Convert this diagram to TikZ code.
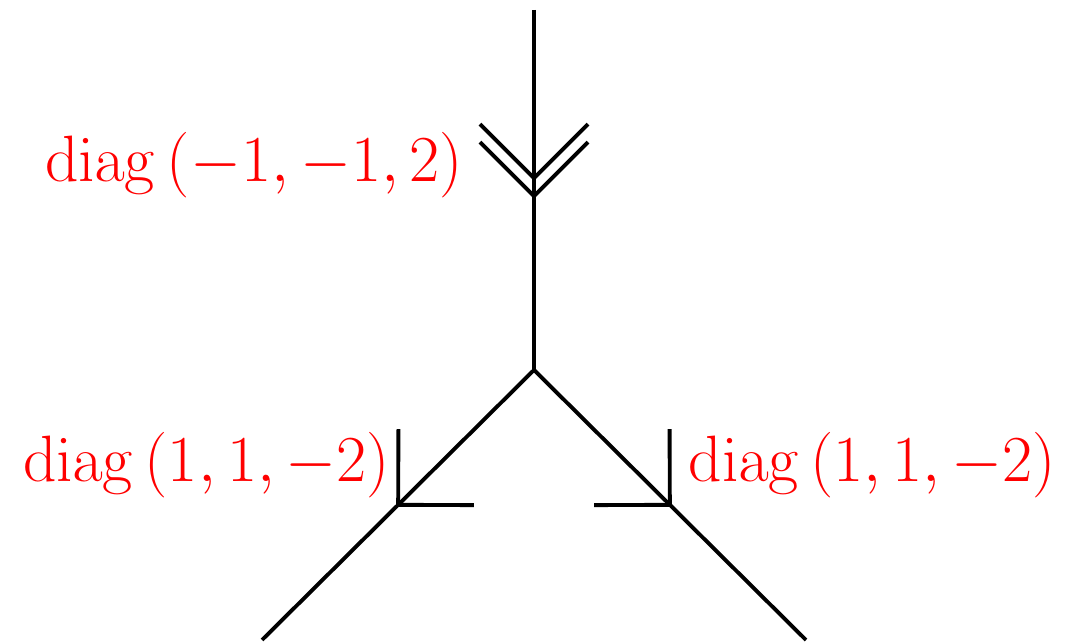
\documentclass[tikz,border=0pt]{standalone}
\usepackage{amsmath}
\usetikzlibrary{decorations.markings}

\begin{document}
\begin{tikzpicture}[
    leg/.style={line width=1.1pt},
    onetip/.style={postaction={decorate, decoration={markings,
      mark=at position #1 with {\draw[line width=1.1pt] (-0.535,0.535) -- (0,0) -- (-0.535,-0.535);}}}},
    twotip/.style={postaction={decorate, decoration={markings,
      mark=at position #1 with {\draw[line width=1.1pt] (-0.54,0.54) -- (0,0) -- (-0.54,-0.54);},
      mark=at position #1+0.05 with {\draw[line width=1.1pt] (-0.54,0.54) -- (0,0) -- (-0.54,-0.54);}}}},
    lbl/.style={text=red, inner sep=0pt, font=\LARGE, scale=1.08, transform shape}]
    \useasboundingbox (0,0) rectangle (10.65,-6.42);
    \coordinate (top) at (5.34,-0.10);
    \coordinate (mid) at (5.34,-3.70);
    \coordinate (bl) at (2.62,-6.40);
    \coordinate (br) at (8.06,-6.40);
    \draw[leg, twotip=0.467] (top) -- (mid);
    \draw[leg, onetip=0.5] (mid) -- (bl);
    \draw[leg, onetip=0.5] (mid) -- (br);
    \node[lbl, anchor=east] (ltop) at (4.64,-1.65) {$\operatorname{diag}\left(-1,-1,2\right)$};
    \node[lbl, anchor=east] (lleft) at (3.91,-4.65) {$\operatorname{diag}\left(1,1,-2\right)$};
    \node[lbl, anchor=west] (lright) at (6.88,-4.65) {$\operatorname{diag}\left(1,1,-2\right)$};
  \end{tikzpicture}
\end{document}
